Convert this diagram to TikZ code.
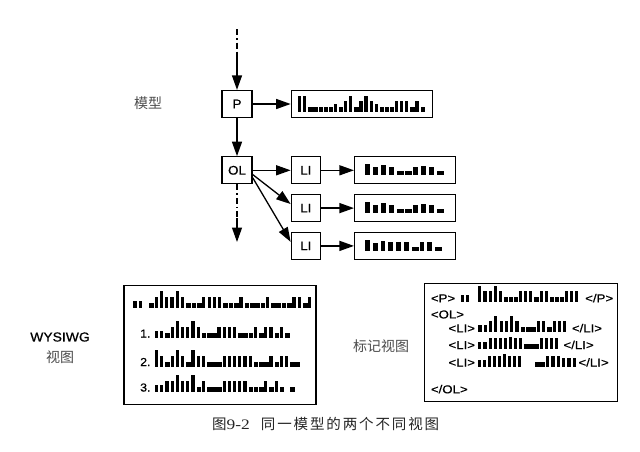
\documentclass[tikz,border=0pt]{standalone}
\usepackage{fontspec}
\setmainfont{Liberation Serif}
\newfontfamily\lab[FakeStretch=1.07,FakeBold=0.6]{Liberation Sans}
\newfontfamily\tagf[FakeStretch=1.15,FakeBold=0.6]{Liberation Sans}
\newfontfamily\cjk{Noto Sans CJK SC}
\newfontfamily\capcjk[LetterSpace=13]{Noto Sans CJK SC}
\newfontfamily\capnum[FakeStretch=1.2]{Liberation Serif}
\usetikzlibrary{arrows.meta,positioning,calc}

% one row of greeked text: start, pitch, bar heights (0 = gap)
\newcommand\greekrow[3]{%
  \foreach \h [count=\i from 0] in {#3}{
    \ifnum\h>0
      \pgfmathsetmacro\bw{(\h>6 ? 0.62 : 0.88)*#2}
      \fill ($(#1)+(\i*#2,0)$) rectangle ++(\bw,-\h);
    \fi
  }}

\begin{document}
\begin{tikzpicture}[
  x=1pt, y=-1pt,
  box/.style={draw, line width=1.3pt, inner sep=0pt, minimum width=30pt,
    minimum height=27pt, font=\lab\fontsize{12.5}{14}\selectfont},
  libox/.style={box, minimum width=29pt},
  barbox/.style={draw, line width=1.3pt, minimum width=101pt, minimum height=27pt},
  bigbox/.style={draw, line width=1.3pt, minimum width=192pt, minimum height=119pt},
  arr/.style={-{Triangle[length=14.5pt,width=10pt]}, line width=1.3pt},
  dd/.style={line width=1.3pt, dash pattern=on 6pt off 3pt on 1.5pt off 3pt},
  tag/.style={anchor=base west, inner sep=0pt, font=\tagf\fontsize{11.5}{13}\selectfont},
  num/.style={anchor=base west, inner sep=0pt, font=\lab\fontsize{11.5}{13}\selectfont},
  side/.style={font=\cjk\fontsize{14}{16}\selectfont, text=black!70}
]
  \path[fill=white] (0,0) rectangle (640,451);
  \useasboundingbox (0,0) rectangle (640,451);

  % model tree
  \node[box] (P) at (237,104) {P};
  \node[box, below=38pt of P] (OL) {OL};
  \node[barbox, minimum width=141pt, right=38pt of P] (pbar) {};
  \node[libox, right=38pt of OL] (li1) {LI};
  \node[libox, below=9.5pt of li1] (li2) {LI};
  \node[libox, below=9.5pt of li2] (li3) {LI};
  \foreach \i in {1,2,3}
    \node[barbox, right=33pt of li\i] (lb\i) {};
  \node[side] (model) at (148,103) {模型};

  \coordinate (top) at (237,29);
  \coordinate (topend) at (237,52);
  \coordinate (botmid) at (237,218);
  \coordinate (bottom) at (237,242);

  \draw[dd] (top) -- (topend);
  \draw[arr] (topend) -- (P);
  \draw[arr] (P) -- (OL);
  \draw[arr] (P) -- (pbar);
  \draw[dd] (OL) -- (botmid);
  \draw[arr] (botmid) -- (bottom);
  \draw[arr] (OL) -- (li1);
  \draw[arr] (OL.-15) -- (li2.165);
  \draw[arr] (OL.-25) -- (li3.165);
  \foreach \i in {1,2,3}
    \draw[arr] (li\i) -- (lb\i);

  \coordinate (pb) at ($(pbar.west)+(7.5,7.7)$);
  \greekrow{pb}{5.1}{16,16,5,5,5,5,5,8,5,11,16,5,11,16,11,8,5,5,5,11,11,11,5,11,5}
  \coordinate (lb1s) at ($(lb1.west)+(11,5)$);
  \coordinate (lb2s) at ($(lb2.west)+(11,5)$);
  \coordinate (lb3s) at ($(lb3.west)+(11,5)$);
  \greekrow{lb1s}{8}{11,8,10,8,4,4,8,9,8,4}
  \greekrow{lb2s}{8}{11,8,10,8,4,4,8,9,8,4}
  \greekrow{lb3s}{7.8}{11,8,10,9,9,9,4,9,9,4}

  % WYSIWYG view
  \node[bigbox] (wys) at (220,345) {};
  \node[font=\lab\fontsize{13}{15}\selectfont] (wlab) at (60,337) {WYSIWG};
  \node[side] (wlab2) at (60,357) {视图};
  \greekrow{133.3,307.7}{5.3}{7,7,0,5,11,17,11,11,17,11,5,5,5,11,11,11,11,5,5,5,11,5,5,5,5,11,5,5,5,5,11,11,5,11}
  \node[num] (n1) at (140,337.5) {1.};
  \greekrow{155,338}{5.2}{7,7,5,11,17,11,11,17,11,5,5,5,11,11,11,11,5,5,5,11,5,11,11,5,11,5}
  \node[num] (n2) at (140,366) {2.};
  \greekrow{155,366.5}{5.2}{17,11,5,11,17,11,5,17,11,11,5,5,5,11,11,11,11,11,11,5,5,5,11,5,11,11,5,5}
  \node[num] (n3) at (140,391.5) {3.};
  \greekrow{155,391.7}{5.2}{7,7,11,11,17,11,11,17,5,11,5,5,5,11,11,11,11,11,5,5,5,11,5,11,5,0,5}

  % markup view
  \node[bigbox, minimum width=193pt, minimum height=118pt] (mark) at (521.3,342.5) {};
  \node[side] (mlab) at (381,346) {标记视图};
  \node[tag] (tp) at (430.7,302.3) {<P>};
  \greekrow{461,302.3}{5}{7,7}
  \greekrow{478.3,302.3}{5.1}{16,11,11,16,11,5,5,5,11,11,11,5,11,11,5,5,5,11,11,11}
  \node[tag] (tpe) at (585,302.3) {</P>};
  \node[tag] (tol) at (430.7,318.4) {<OL>};
  \node[tag] (tli1) at (448.3,332.3) {<LI>};
  \greekrow{478.3,332.3}{5.3}{7,7,11,16,11,11,16,11,5,5,5,11,11,5,11,11,11}
  \node[tag] (tli1e) at (571.7,332.3) {</LI>};
  \node[tag] (tli2) at (448.3,349) {<LI>};
  \greekrow{478.3,349}{5.1}{7,7,11,11,11,11,12,11,11,5,5,5,11,11,11,11}
  \node[tag] (tli2e) at (563.3,349) {</LI>};
  \node[tag] (tli3) at (448.3,366.5) {<LI>};
  \greekrow{478.3,366.5}{5}{7,7,11,11,11,13,11,11,11}
  \greekrow{535,366.5}{5.4}{5,5,11,11,11,9,9,9}
  \node[tag] (tli3e) at (578.3,366.5) {</LI>};
  \node[tag] (tole) at (430.7,393.3) {</OL>};

  % caption
  \node[anchor=base west, inner sep=0pt, text=black!85] (cap) at (212,429)
    {{\capcjk\fontsize{14.5}{16}\selectfont 图}{\capnum\fontsize{14.5}{16}\selectfont 9-2}\hspace{11pt}{\capcjk\fontsize{14.5}{16}\selectfont 同一模型的两个不同视图}};
\end{tikzpicture}
\end{document}
